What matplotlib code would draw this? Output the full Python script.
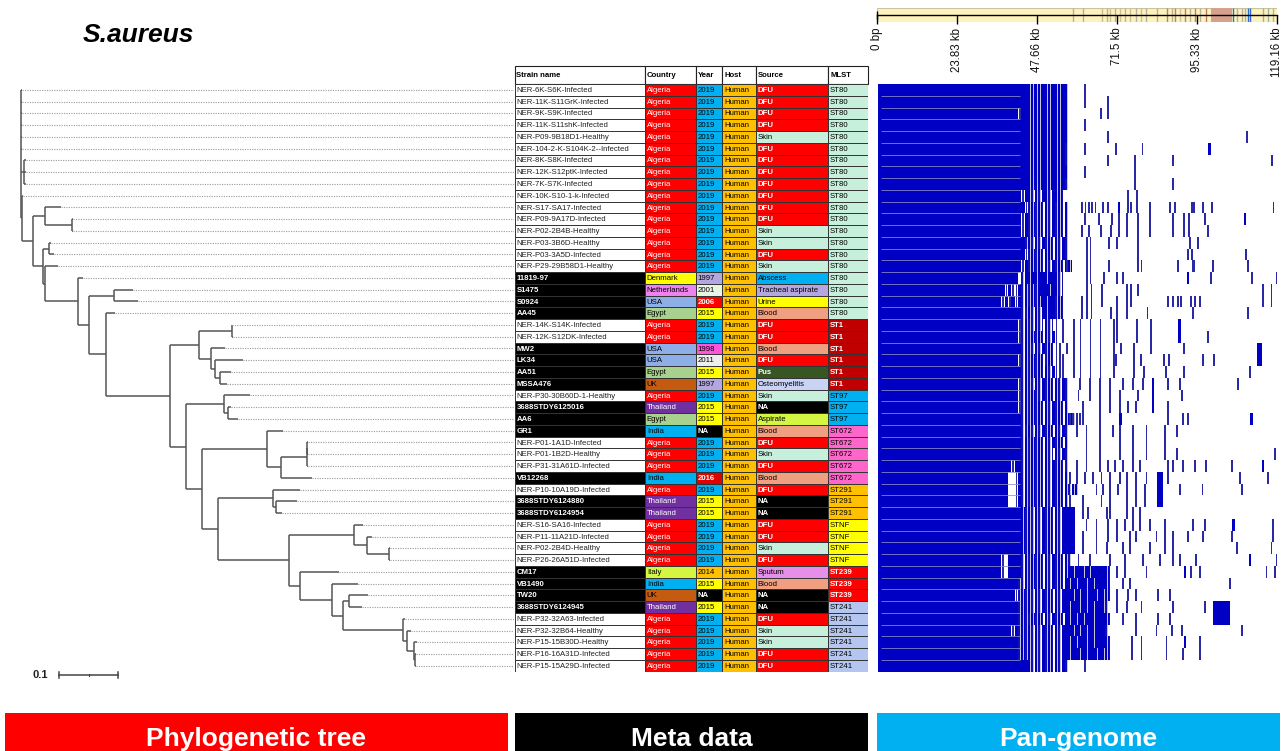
"""
S.aureus figure: phylogenetic tree + metadata table + pan-genome presence matrix.
"""
import matplotlib
matplotlib.use("Agg")
import matplotlib.pyplot as plt

plt.rcParams["font.family"] = ["Liberation Sans", "DejaVu Sans"]

W, H = 1286, 751

# ---------------------------------------------------------------- data ----
strains = [
    "NER-6K-S6K-Infected", "NER-11K-S11GrK-Infected", "NER-9K-S9K-Infected",
    "NER-11K-S11shK-Infected", "NER-P09-9B18D1-Healthy", "NER-104-2-K-S104K-2--Infected",
    "NER-8K-S8K-Infected", "NER-12K-S12ptK-Infected", "NER-7K-S7K-Infected",
    "NER-10K-S10-1-k-Infected", "NER-S17-SA17-Infected", "NER-P09-9A17D-Infected",
    "NER-P02-2B4B-Healthy", "NER-P03-3B6D-Healthy", "NER-P03-3A5D-Infected",
    "NER-P29-29B58D1-Healthy", "11819-97", "S1475", "S0924", "AA45",
    "NER-14K-S14K-Infected", "NER-12K-S12DK-Infected", "MW2", "LK34", "AA51", "MSSA476",
    "NER-P30-30B60D-1-Healthy", "3688STDY6125016", "AA6", "GR1",
    "NER-P01-1A1D-Infected", "NER-P01-1B2D-Healthy", "NER-P31-31A61D-Infected", "VB12268",
    "NER-P10-10A19D-Infected", "3688STDY6124880", "3688STDY6124954",
    "NER-S16-SA16-Infected", "NER-P11-11A21D-Infected", "NER-P02-2B4D-Healthy",
    "NER-P26-26A51D-Infected", "CM17", "VB1490", "TW20", "3688STDY6124945",
    "NER-P32-32A63-Infected", "NER-P32-32B64-Healthy", "NER-P15-15B30D-Healthy",
    "NER-P16-16A31D-Infected", "NER-P15-15A29D-Infected",
]
countries = [
    "Algeria", "Algeria", "Algeria", "Algeria", "Algeria", "Algeria", "Algeria", "Algeria",
    "Algeria", "Algeria", "Algeria", "Algeria", "Algeria", "Algeria", "Algeria", "Algeria",
    "Denmark", "Netherlands", "USA", "Egypt", "Algeria", "Algeria", "USA", "USA", "Egypt",
    "UK", "Algeria", "Thailand", "Egypt", "India", "Algeria", "Algeria", "Algeria", "India",
    "Algeria", "Thailand", "Thailand", "Algeria", "Algeria", "Algeria", "Algeria", "Italy",
    "India", "UK", "Thailand", "Algeria", "Algeria", "Algeria", "Algeria", "Algeria",
]
years = [
    "2019", "2019", "2019", "2019", "2019", "2019", "2019", "2019", "2019", "2019",
    "2019", "2019", "2019", "2019", "2019", "2019", "1997", "2001", "2006", "2015",
    "2019", "2019", "1998", "2011", "2015", "1997", "2019", "2015", "2015", "NA",
    "2019", "2019", "2019", "2016", "2019", "2015", "2015", "2019", "2019", "2019",
    "2019", "2014", "2015", "NA", "2015", "2019", "2019", "2019", "2019", "2019",
]
hosts = [
    "Human", "Human", "Human", "Human", "Human", "Human", "Human", "Human", "Human", "Human",
    "Human", "Human", "Human", "Human", "Human", "Human", "Human", "Human", "Human", "Human",
    "Human", "Human", "Human", "Human", "Human", "Human", "Human", "Human", "Human", "Human",
    "Human", "Human", "Human", "Human", "Human", "Human", "Human", "Human", "Human", "Human",
    "Human", "Human", "Human", "Human", "Human", "Human", "Human", "Human", "Human", "Human",
]
sources = [
    "DFU", "DFU", "DFU", "DFU", "Skin", "DFU", "DFU", "DFU", "DFU", "DFU",
    "DFU", "DFU", "Skin", "Skin", "DFU", "Skin", "Abscess", "Tracheal aspirate", "Urine", "Blood",
    "DFU", "DFU", "Blood", "DFU", "Pus", "Osteomyelitis", "Skin", "NA", "Aspirate", "Blood",
    "DFU", "Skin", "DFU", "Blood", "DFU", "NA", "NA", "DFU", "DFU", "Skin",
    "DFU", "Sputum", "Blood", "NA", "NA", "DFU", "Skin", "Skin", "DFU", "DFU",
]
mlst = [
    "ST80", "ST80", "ST80", "ST80", "ST80", "ST80", "ST80", "ST80", "ST80", "ST80",
    "ST80", "ST80", "ST80", "ST80", "ST80", "ST80", "ST80", "ST80", "ST80", "ST80",
    "ST1", "ST1", "ST1", "ST1", "ST1", "ST1", "ST97", "ST97", "ST97", "ST672",
    "ST672", "ST672", "ST672", "ST672", "ST291", "ST291", "ST291", "STNF", "STNF", "STNF",
    "STNF", "ST239", "ST239", "ST239", "ST241", "ST241", "ST241", "ST241", "ST241", "ST241",
]

# tree (substitutions / site)
newick = (
    "(NER-6K-S6K-Infected:0.0017,NER-11K-S11GrK-Infected:0.0017,NER-9K-S9K-Infected:0.0017,"
    "NER-11K-S11shK-Infected:0.0017,NER-P09-9B18D1-Healthy:0.0017,"
    "NER-104-2-K-S104K-2--Infected:0.0017,"
    "(NER-8K-S8K-Infected:0.0034,NER-12K-S12ptK-Infected:0.0034,NER-7K-S7K-Infected:0.0034):0.0051,"
    "(NER-10K-S10-1-k-Infected:0.0017,"
    "((NER-S17-SA17-Infected:0.0266,(NER-P09-9A17D-Infected:0.0027,NER-P02-2B4B-Healthy:0.0027):0.0453):0.0208,"
    "((NER-P03-3B6D-Healthy:0.0024,NER-P03-3A5D-Infected:0.0085):0.0102,"
    "(NER-P29-29B58D1-Healthy:0.0225,"
    "(11819-97:0.0095,"
    "((S1475:0.0317,S0924:0.0402):0.0424,"
    "(AA45:0.0153,"
    "(((NER-14K-S14K-Infected:0.0010,NER-12K-S12DK-Infected:0.0022):0.0554,"
    "(MW2:0.0242,(LK34:0.0480,(AA51:0.0181,MSSA476:0.0114):0.0085):0.0073):0.0198):0.0492,"
    "((NER-P30-30B60D-1-Healthy:0.0441,(3688STDY6125016:0.0041,AA6:0.0159):0.0073):0.0649,"
    "((GR1:0.0271,(((NER-P01-1A1D-Infected:0.0012,NER-P01-1B2D-Healthy:0.0012):0.0010,"
    "NER-P31-31A61D-Infected:0.0022):0.0436,VB12268:0.0520):0.0242):0.1102,"
    "((NER-P10-10A19D-Infected:0.0453,(3688STDY6124880:0.0351,3688STDY6124954:0.0102):0.0046):0.0932,"
    "((NER-S16-SA16-Infected:0.0158,(NER-P11-11A21D-Infected:0.0085,"
    "(NER-P02-2B4D-Healthy:0.0017,NER-P26-26A51D-Infected:0.0017):0.0378):0.0215):0.1107,"
    "(CM17:0.0666,(VB1490:0.0441,((TW20:0.0317,3688STDY6124945:0.0215):0.0097,"
    "(NER-P32-32A63-Infected:0.0029,(NER-P32-32B64-Healthy:0.0058,(NER-P15-15B30D-Healthy:0.0041,"
    "(NER-P16-16A31D-Infected:0.0022,NER-P15-15A29D-Infected:0.0022):0.0007):0.0119):0.0068)"
    ":0.1017):0.0197):0.0537):0.0192):0.1193):0.0281):0.0271):0.0266):0.1085):0.0288)"
    ":0.0192):0.0554):0.0029):0.0180):0.0176):0.0022);"
)

# pan-genome: one char per kb starting at 36 kb (# gene block, : block with gap,
# / partial block, | single gene, . absent); everything below 36 kb is core
pan_dense = [
    "#########::::::::::::", "#########::::::::::::", "######|##::::::::::::",
    "#########::::::::::::", "#########::::::::::::", "#########:::::::::::/",
    "#########:::::::::::/", "#########::::::::::::", "#########:::::::::::/",
    "#######|#:/:/::/:::/", "########|/:/:/:/:/:/:", "#######|#/:/:/:/:/:/:",
    "#######|#/:/:/:/:/:/:", "########/:/:/:/:/:/:/", "########|/:/:/::/:/:/",
    "#######|#/:/:/:/:/:/::", "######./#:#:##:##://", "##|#||#/:/:/#:#:#://",
    "#|#|#|#/:/:/:#:#:/:/", "#######//:/:/#:#:/:/", "######|/://://://|.|",
    "######|/:/:/:/:/:|.|", "#######/://:/:/:/||.|", "######|/:/:/://:/|||",
    "#######/:/:/:/:/:|||", "######|/://:/:/:/:/:/", "######|/:/://:/:/:/:/",
    "######|/:/:/:/:/:/:/:", "#######/:/:/:/:/:/:/::/", "#######//:/:/:/:/:/:/",
    "#######/:/:/:/:/:/:/:", "#######/:/:/:/://:/:/", "####|##/:/:/:/:/:/://",
    "###..|#/:/:/:/:/:/:/:|", "###..|#/:/:/:/:/:/:/:/::", "###..|#/:/:/:/:/:/:/:|",
    "#######:/:/:/:/:/:/:###", "#######:/:/:/:/:/:/:###", "#######:/:/:/:/:/:/:###",
    "#######:/:/:/:/:/:/:###", "#|.####/:/:/:/:/:/:/:/", "#|.####/:/:/:/:/:/:/:#:##:#:##:#:/",
    "######//:/:/:/:/:/:/#:#:##:#:#:#:/", "#####|/:/:/:/:/:/:/:##:#:#:##:#::/",
    "######/:/:/:/:/:/:/:#:##:#:#:##:/", "######/://:/:/:/:/:/#:#:#:##:#:#:/",
    "####|#/:/:/:/:/:/:/:##:#:#:#:#:#/", "######/:/:/:/:/:/:/:#:#:##:#:#:#:/",
    "######/:/:/:/:/:/:/:#:##:#:##:#::/", "#########:/:/:/:/:/:/",
]
# single accessory genes (kb) per strain
pan_genes = [
    [61.9], [61.9, 68.9], [66.8, 68.9], [61.9], [68.9, 110.2],
    [61.9, 71.3, 79.1], [68.9, 76.8, 88.1, 117.8, 119.6], [61.9, 76.8], [76.8, 88.1],
    [74.8, 77.6],
    [61.1, 62.1, 63.1, 64.1, 65.1, 67.4, 68.8, 74.8, 75.6, 77.6, 81.3, 87.3, 88.8, 93.8,
     94.4, 97.1, 99.9, 118.2],
    [61.9, 66.1, 70.1, 72.1, 74.4, 77.8, 81.3, 88.1, 91.6, 93.1, 97.8],
    [61.1, 63.1, 66.8, 69.6, 72.1, 74.4, 77.8, 81.3, 88.1, 91.6, 93.1, 98.6],
    [62.6, 63.6, 69.1, 71.6, 77.8, 93.4, 95.6],
    [62.6, 63.6, 77.8, 92.6, 93.8, 110.1],
    [56.6, 62.6, 63.6, 69.1, 77.8, 78.8, 89.6, 94.1, 94.6, 100.1, 110.6],
    [62.6, 63.6, 67.6, 71.6, 73.4, 99.6, 111.8, 119.1],
    [62.6, 63.9, 67.1, 74.4, 75.6, 77.8, 115.1, 117.6],
    [61.1, 62.6, 63.9, 67.1, 71.6, 74.4, 75.6, 86.6, 88.1, 89.6, 90.6, 93.6, 94.8, 96.3,
     115.1, 117.6],
    [61.1, 62.6, 63.9, 69.6, 71.6, 74.4, 80.6, 94.1, 110.6],
    [58.6, 60.6, 63.6, 66.6, 70.6, 71.6, 77.4, 81.6],
    [58.6, 60.6, 63.6, 66.6, 70.6, 71.6, 77.4, 81.6, 98.6],
    [58.6, 60.6, 63.6, 66.6, 70.6, 72.6, 76.6, 81.6, 91.6],
    [58.6, 60.6, 63.6, 66.6, 70.6, 71.1, 76.6, 78.6, 85.6, 87.1, 97.1, 100.4],
    [58.6, 60.6, 63.6, 66.6, 70.6, 76.6, 79.6, 86.1, 91.6, 111.1],
    [60.4, 63.4, 66.4, 69.4, 73.4, 76.3, 79.3, 86.8, 90.3, 107.7],
    [60.0, 63.4, 66.4, 69.4, 72.4, 77.8, 90.8],
    [61.4, 66.4, 69.4, 72.4, 74.9, 77.3, 86.8],
    [57.5, 58.5, 59.5, 60.5, 61.4, 66.4, 86.8, 91.3, 92.8],
    [59.5, 62.4, 66.4, 70.4, 72.4, 76.3, 80.3, 85.8, 89.3],
    [62.4, 66.4, 72.4, 76.3, 80.3, 85.8],
    [62.4, 66.4, 72.4, 76.3, 80.3, 85.8, 89.3, 118.6],
    [59.5, 62.4, 66.4, 68.9, 70.9, 73.4, 76.3, 78.3, 86.8, 88.3, 91.3, 94.7, 98.0, 105.7],
    [59.5, 61.9, 64.4, 66.9, 69.4, 72.4, 74.4, 77.3, 80.3, 86.8, 108.2, 116.6],
    [65.4, 67.4, 69.4, 71.9, 74.4, 77.3, 79.8, 90.3, 97.0, 108.7],
    [61.4, 66.9, 69.4, 74.4, 77.3, 79.8],
    [61.4, 62.9, 68.4, 69.4, 74.4, 76.3, 78.3],
    [62.4, 65.4, 68.9, 71.4, 73.9, 76.3, 78.3, 81.3, 85.8, 94.2, 97.7, 118.1],
    [61.4, 65.4, 68.9, 71.4, 75.4, 77.3, 83.3, 85.8, 88.3, 92.8, 97.2, 105.7, 118.1],
    [61.4, 65.4, 68.4, 73.4, 75.4, 81.3, 85.8, 88.3, 107.2, 117.6],
    [60.0, 63.4, 69.4, 73.9, 79.3, 84.3, 88.3, 90.3, 95.2, 119.1],
    [71.4, 73.9, 80.3, 93.7, 96.2, 116.1, 118.6],
    [73.4, 75.4, 105.2],
    [71.4, 74.9, 77.3, 83.8, 87.3],
    [71.4, 74.4, 78.8, 88.3, 97.7],
    [73.4, 77.3, 83.8, 87.3],
    [77.3, 83.3, 87.8, 90.8, 108.7],
    [75.9, 78.8, 86.3, 96.2],
    [75.9, 78.8, 86.3, 91.3, 96.2],
    [61.9],
]
# larger accessory blocks: (first strain, last strain, start kb, end kb), 1-based
pan_blocks = [
    (6, 6, 98.8, 99.5), (11, 11, 71.8, 72.5), (12, 12, 109.3, 110.1), (17, 17, 92.3, 93.0),
    (21, 22, 89.8, 90.5), (23, 24, 113.4, 114.7), (26, 28, 82.0, 82.7), (29, 29, 72.1, 72.9),
    (29, 29, 111.3, 112.0), (33, 33, 114.8, 115.5), (34, 36, 83.3, 85.3), (38, 38, 105.9, 106.6),
    (41, 41, 110.8, 111.5), (42, 42, 91.5, 92.2), (45, 46, 100.2, 105.2), (48, 48, 91.5, 92.2),
]
# colour strip above the matrix (kb, colour)
strip_kb = [58.5, 61.5, 66.9, 68.4, 69.4, 70.9, 72.4, 73.9, 75.4, 77.3, 78.8, 80.3, 83.3,
            86.3, 87.8, 88.8, 90.3, 91.8, 93.2, 94.7, 96.2, 98.2, 106.2, 107.2, 108.7,
            109.7, 110.6, 111.1, 115.1, 116.6, 118.1]
strip_col = ["grey", "grey", "tan", "grey", "tan", "grey", "tan", "grey", "tan", "grey",
             "tan", "grey", "grey", "red", "grey", "red", "tan", "red", "grey", "red",
             "grey", "red", "blue", "grey", "grey", "grey", "blue", "blue", "green",
             "green", "grey"]
strip_block = (99.7, 105.7)
genome_ticks = [0, 23.83, 47.66, 71.5, 95.33, 119.16]
genome_labels = ["0 bp", "23.83 kb", "47.66 kb", "71.5 kb", "95.33 kb", "119.16 kb"]

# ------------------------------------------------------------- styles ----
BLUE = "#0000c4"
country_style = {"Algeria": ("#ff0000", "white"), "Denmark": ("#ffff00", "black"),
                 "Netherlands": ("#ee82ee", "black"), "USA": ("#8eaee8", "black"),
                 "Egypt": ("#a9d18e", "black"), "UK": ("#c55a11", "black"),
                 "Thailand": ("#7030a0", "white"), "India": ("#00b0f0", "black"),
                 "Italy": ("#d4f542", "black")}
year_style = {"2019": ("#00b0f0", "black"), "1997": ("#b4a7e0", "black"),
              "2001": ("#e8f4e4", "black"), "2006": ("#ff0000", "white"),
              "2015": ("#ffff00", "black"), "1998": ("#ff55dd", "black"),
              "2011": ("#eeeeee", "black"), "NA": ("#000000", "white"),
              "2016": ("#e00000", "white"), "2014": ("#ffc000", "black")}
host_style = {"Human": ("#ffc000", "black")}
source_style = {"DFU": ("#ff0000", "white"), "Skin": ("#c6f0dc", "black"),
                "Abscess": ("#00b0f0", "black"), "Tracheal aspirate": ("#b4a7e0", "black"),
                "Urine": ("#ffff00", "black"), "Blood": ("#f0a080", "black"),
                "Pus": ("#375623", "white"), "Osteomyelitis": ("#c9d3f5", "black"),
                "NA": ("#000000", "white"), "Aspirate": ("#d4f542", "black"),
                "Sputum": ("#e58fe8", "black")}
mlst_style = {"ST80": ("#c6f0dc", "black"), "ST1": ("#c00000", "white"),
              "ST97": ("#00b0f0", "black"), "ST672": ("#ff66cc", "black"),
              "ST291": ("#ffc000", "black"), "STNF": ("#ffff00", "black"),
              "ST239": ("#ff0000", "white"), "ST241": ("#b4c6f0", "black")}
strip_colors = {"grey": "#b8b09a", "tan": "#cdbf96", "red": "#c47a6a",
                "blue": "#2a6ccf", "green": "#9fb29a"}


def parse_newick(s):
    s = s.strip().rstrip(";")
    pos = 0

    def node():
        nonlocal pos
        kids = []
        if s[pos] == "(":
            pos += 1
            while True:
                kids.append(node())
                if s[pos] == ",":
                    pos += 1
                    continue
                pos += 1          # ')'
                break
        start = pos
        while pos < len(s) and s[pos] not in ":,()":
            pos += 1
        name = s[start:pos]
        length = 0.0
        if pos < len(s) and s[pos] == ":":
            pos += 1
            start = pos
            while pos < len(s) and s[pos] not in ",()":
                pos += 1
            length = float(s[start:pos])
        return {"name": name, "len": length, "kids": kids}

    return node()


def px_axes(fig, x0, y0, x1, y1):
    ax = fig.add_axes([x0 / W, 1 - y1 / H, (x1 - x0) / W, (y1 - y0) / H])
    ax.set_axis_off()
    return ax


fig = plt.figure(figsize=(W / 100, H / 100), dpi=100)
n = len(strains)
row_of = {s: i for i, s in enumerate(strains)}
ROW_TOP, ROW_BOT = 84, 671.7

# ----------------------------------------------------------------- tree ----
tree = parse_newick(newick)
ax_t = px_axes(fig, 0, ROW_TOP, 514, ROW_BOT)
x_right = (514 - 21) / 590
ax_t.set_xlim(-21 / 590, x_right)
ax_t.set_ylim(n, 0)


def layout(nd, x0):
    nd["x"] = x0 + nd["len"]
    if not nd["kids"]:
        nd["y"] = row_of[nd["name"]] + 0.5
    else:
        for k in nd["kids"]:
            layout(k, nd["x"])
        nd["y"] = (nd["kids"][0]["y"] + nd["kids"][-1]["y"]) / 2


tree["len"] = 0.0
layout(tree, 0.0)


def draw(nd):
    if not nd["kids"]:
        ax_t.plot([nd["x"], x_right], [nd["y"]] * 2, color="#9a9a9a", lw=0.8,
                  ls=(0, (1, 1.2)))
        return
    ax_t.plot([nd["x"]] * 2, [nd["kids"][0]["y"], nd["kids"][-1]["y"]],
              color="#555555", lw=1.1, solid_capstyle="butt")
    for k in nd["kids"]:
        ax_t.plot([nd["x"], k["x"]], [k["y"]] * 2, color="#555555", lw=1.1,
                  solid_capstyle="butt")
        draw(k)


draw(tree)
# scale bar
sb_y = n + 0.28
ax_t.plot([0.0649, 0.1649], [sb_y, sb_y], color="#444444", lw=1.1, clip_on=False)
for xb in (0.0649, 0.1649):
    ax_t.plot([xb, xb], [sb_y - 0.22, sb_y + 0.22], color="#444444", lw=1.1, clip_on=False)
ax_t.plot([0.1149, 0.1149], [sb_y - 0.08, sb_y + 0.08], color="#444444", lw=0.8,
          clip_on=False)
ax_t.text(0.046, sb_y, "0.1", ha="right", va="center", fontsize=8, color="#222222",
          fontweight="bold")

# ---------------------------------------------------------------- table ----
col_edges = [514.7, 645, 695.7, 722.3, 756, 828.3, 868.3]
headers = ["Strain name", "Country", "Year", "Host", "Source", "MLST"]
ax_m = px_axes(fig, col_edges[0], ROW_TOP, col_edges[-1], ROW_BOT)
ax_m.set_xlim(col_edges[0], col_edges[-1])
ax_m.set_ylim(n, 0)
head_h = (ROW_TOP - 66) / ((ROW_BOT - ROW_TOP) / n)
FS = 5.6

columns = [
    (strains, None),
    (countries, country_style),
    (years, year_style),
    (hosts, host_style),
    (sources, source_style),
    (mlst, mlst_style),
]
for c, (values, style) in enumerate(columns):
    x0, x1 = col_edges[c], col_edges[c + 1]
    ax_m.add_patch(plt.Rectangle((x0, -head_h), x1 - x0, head_h, fc="white",
                                 ec="#222222", lw=0.8, clip_on=False))
    ax_m.text(x0 + 1.8, -head_h / 2, headers[c], ha="left", va="center",
              fontsize=FS, fontweight="bold", clip_on=False)
    for i, v in enumerate(values):
        if style is None:
            ref = not v.startswith("NER")
            fc, tc = ("#000000", "white") if ref else ("white", "#222222")
            bold = ref
        else:
            fc, tc = style[v]
            bold = tc == "white" and c != 1
        ax_m.add_patch(plt.Rectangle((x0, i), x1 - x0, 1, fc=fc, ec="#333333", lw=0.7))
        ax_m.text(x0 + 1.8, i + 0.55, v, ha="left", va="center", fontsize=FS,
                  color=tc, fontweight="bold" if bold else "normal")

# ---------------------------------------------------------- pan-genome ----
GEN_LEN = 119.16
ax_p = px_axes(fig, 877.3, ROW_TOP, 1276.7, ROW_BOT)
ax_p.set_xlim(0, GEN_LEN)
ax_p.set_ylim(n, 0)
for i in range(n):
    solid, half, grey, thin = [(0.3, 35.7)], [], [], []
    for j, ch in enumerate(pan_dense[i]):
        x0 = 36 + j
        if ch == "#":
            solid.append((x0, 1))
        elif ch == ":":
            solid.append((x0, 1))
            grey.append((x0 + 0.6, 0.25))
        elif ch == "/":
            half.append((x0, 0.55))
            grey.append((x0 + 0.6, 0.25))
        elif ch == "|":
            thin.append((x0 + 0.25, 0.5))
    for g in pan_genes[i]:
        thin.append((g - 0.27, 0.55))
    ax_p.broken_barh(solid, (i, 1), facecolors=BLUE, lw=0)
    ax_p.broken_barh(half, (i, 1), facecolors="#1010b8", lw=0)
    ax_p.broken_barh(grey, (i, 1), facecolors="#c4c4d4", lw=0)
    ax_p.broken_barh(thin, (i, 1), facecolors="#2a2aa6", lw=0)
for r0, r1, k0, k1 in pan_blocks:
    ax_p.broken_barh([(k0, k1 - k0)], (r0 - 1, r1 - r0 + 1), facecolors=BLUE, lw=0)
ax_p.hlines(range(1, n), 1.0, 42.5, color="#8f8fc4", lw=0.55)

# colour strip with genome coordinates
ax_s = px_axes(fig, 877.3, 8.3, 1276.7, 21.7)
ax_s.set_xlim(0, GEN_LEN)
ax_s.set_ylim(0, 1)
ax_s.add_patch(plt.Rectangle((0, 0), GEN_LEN, 1, fc="#fdf3bd", ec="#c9c3a0", lw=0.8))
ax_s.vlines(strip_kb, 0, 1, colors=[strip_colors[c] for c in strip_col], lw=1.0)
ax_s.add_patch(plt.Rectangle((strip_block[0], 0), strip_block[1] - strip_block[0], 1,
                             fc="#d6a08c", lw=0))
ax_s.plot([0, GEN_LEN], [0.5, 0.5], color="black", lw=1.0, clip_on=False)
ax_s.vlines(genome_ticks, -0.15, 0.5, color="black", lw=1.0, clip_on=False)
ax_s.vlines([0], 0.2, 0.8, color="black", lw=1.0, clip_on=False)
for t, lab in zip(genome_ticks, genome_labels):
    ax_s.text(t, -0.45, lab, rotation=90, ha="center", va="top", fontsize=8.3,
              color="#111111", clip_on=False)

# ------------------------------------------------------- title & banners ----
fig.text(83 / W, 1 - 41.5 / H, "S.aureus", fontsize=19, fontweight="bold",
         fontstyle="italic", ha="left", va="baseline")
banners = [("Phylogenetic tree", 5, 508, "#ff0000"),
           ("Meta data", 515, 868, "#000000"),
           ("Pan-genome", 877, 1280, "#00b0f0")]
for label, x0, x1, col in banners:
    fig.patches.append(plt.Rectangle((x0 / W, 0), (x1 - x0) / W, (H - 713) / H,
                                     transform=fig.transFigure, fc=col, lw=0))
    fig.text((x0 + x1) / 2 / W, 1 - 746 / H, label, ha="center", va="baseline",
             fontsize=19, fontweight="bold", color="white")

fig.savefig("out.png", dpi=100)
